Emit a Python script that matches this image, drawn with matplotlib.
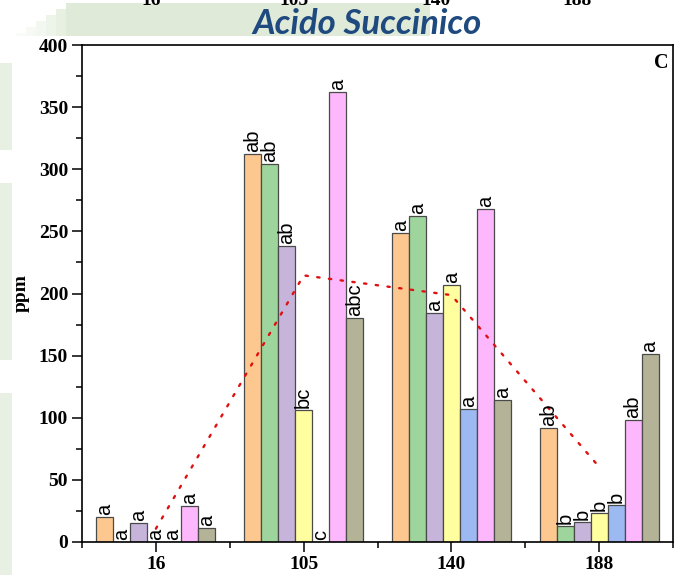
import numpy as np
import matplotlib
matplotlib.use("Agg")
import matplotlib.pyplot as plt
from matplotlib.patches import Rectangle
from matplotlib.ticker import MultipleLocator, FixedLocator

# Sampling times (x categories)
times = ["16", "105", "140", "188"]

# Succinic acid concentration (ppm) per treatment at each sampling time
orange = [20, 312, 249, 92]
green = [0, 304, 262, 13]
purple = [15, 238, 184, 16]
yellow = [0, 106, 207, 23]
blue = [0, 0, 107, 30]
pink = [29, 362, 268, 98]
olive = [11, 180, 114, 151]

# Significance letters per treatment at each sampling time
orange_lbl = ["a", "ab", "a", "ab"]
green_lbl = ["a", "ab", "a", "b"]
purple_lbl = ["a", "ab", "a", "b"]
yellow_lbl = ["a", "bc", "a", "b"]
blue_lbl = ["a", "c", "a", "b"]
pink_lbl = ["a", "a", "a", "ab"]
olive_lbl = ["a", "abc", "a", "a"]

series = [orange, green, purple, yellow, blue, pink, olive]
labels = [orange_lbl, green_lbl, purple_lbl, yellow_lbl, blue_lbl, pink_lbl, olive_lbl]
colors = ["#FDC88F", "#9DD59C", "#C6B4DA", "#FFFF9F", "#9CBAF1", "#FDB7FD", "#B4B397"]

W, H = 679, 575
fig = plt.figure(figsize=(W / 100, H / 100), dpi=100)
fig.patch.set_facecolor("white")

# light green slide decorations behind the chart
green_bg = "#DFEBD8"
def px_rect(x0, y0, x1, y1, alpha=1.0):
    fig.add_artist(Rectangle((x0 / W, 1 - y1 / H), (x1 - x0) / W, (y1 - y0) / H,
                             transform=fig.transFigure, facecolor=green_bg,
                             edgecolor="none", alpha=alpha, zorder=0))

px_rect(66, 3, 430, 36)
for i, a in enumerate([0.75, 0.55, 0.4, 0.28, 0.16]):
    x1 = 66 - i * 10
    px_rect(x1 - 10, 3 + (i + 1) * 6, x1, 36, alpha=a)
px_rect(0, 63, 12, 150, alpha=0.7)
px_rect(0, 183, 12, 360, alpha=0.7)
px_rect(0, 393, 12, 575, alpha=0.7)

ax = fig.add_axes([82 / W, 1 - 542 / H, (673 - 82) / W, (542 - 45) / H])
ax.set_facecolor("white")

x = np.arange(1, len(times) + 1)
n = len(series)
bw = 0.115
for i, (vals, lbls, c) in enumerate(zip(series, labels, colors)):
    pos = x + (i - (n - 1) / 2) * bw
    ax.bar(pos, vals, width=bw, color=c, edgecolor="#4a4a4a", linewidth=0.9, zorder=2)
    for xp, v, t in zip(pos, vals, lbls):
        ax.annotate(t, (xp, v), xytext=(0, 1.5), textcoords="offset points",
                    rotation=90, ha="center", va="bottom", fontsize=14.5,
                    family="Liberation Sans", zorder=4)

# trend line through the group means
means = np.mean(np.array(series, dtype=float), axis=0)
ax.plot(x, means, color="#E01010", linestyle=(0, (1, 4)), linewidth=1.7,
        dash_capstyle="round", zorder=3)

ax.set_xlim(0.5, 4.5)
ax.set_ylim(0, 400)
ax.xaxis.set_major_locator(FixedLocator(x))
ax.xaxis.set_minor_locator(FixedLocator(np.arange(0.5, 4.6, 1.0)))
ax.set_xticklabels(times)
ax.yaxis.set_major_locator(MultipleLocator(50))
ax.yaxis.set_minor_locator(MultipleLocator(25))

serif = "Liberation Serif"
ax.tick_params(which="major", direction="out", length=7, width=1.1,
               labelsize=14, top=False, right=False)
ax.tick_params(which="minor", direction="out", length=4, width=1.1,
               top=False, right=False)
ax.tick_params(axis="x", which="major", pad=3)
ax.tick_params(axis="y", which="major", pad=3)
for lab in ax.get_xticklabels() + ax.get_yticklabels():
    lab.set_family(serif)
    lab.set_fontweight("bold")
for s in ax.spines.values():
    s.set_linewidth(1.2)

ax.text(0.981, 0.964, "C", transform=ax.transAxes, ha="center", va="center",
        fontsize=14.5, fontweight="bold", family=serif)

fig.text(21 / W, 1 - 293 / H, "ppm", rotation=90, ha="center", va="center",
         fontsize=14, fontweight="bold", family=serif)

fig.text(367 / W, 1 - 34 / H, "Acido Succinico", ha="center", va="baseline",
         fontsize=25, fontweight="bold", fontstyle="italic", family="Lato",
         color="#1F4A80")

# axis labels of the panel above, cut off by the top edge
for xp, t in zip([151, 294, 436, 577], times):
    fig.text(xp / W, 1 - 5 / H, t, ha="center", va="baseline", fontsize=14,
             fontweight="bold", family=serif)

fig.savefig("out.png", dpi=100)
